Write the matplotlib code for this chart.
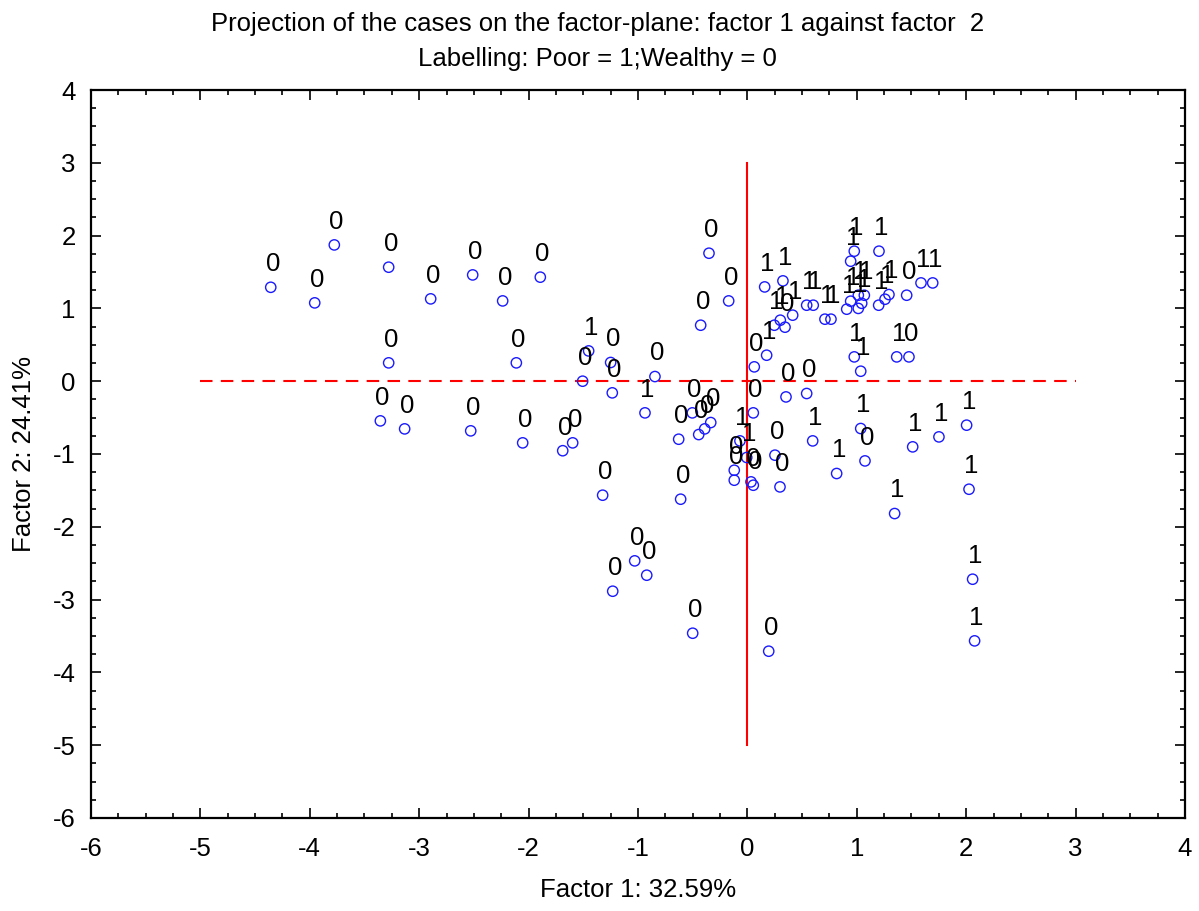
import numpy as np
import matplotlib
matplotlib.use("Agg")
import matplotlib.pyplot as plt
from matplotlib.ticker import MultipleLocator

plt.rcParams["font.family"] = ["Liberation Sans", "DejaVu Sans"]
plt.rcParams["axes.unicode_minus"] = False

# factor scores of the cases (factor 1, factor 2) and group code
factor1 = [-4.357, -3.955, -3.776, -3.279, -2.895, -2.511, -2.237, -1.893,
           -3.279, -2.112, -1.451, -1.506, -3.355, -3.133, -2.529, -2.054,
           -1.688, -1.597, -0.351, -0.171, -0.427, -1.250, -1.235, -0.845,
           -0.936, -0.628, -0.503, -0.445, -0.390, -0.335, -0.068, -0.006,
           -0.120, -0.120, 0.033, 0.054, 0.252, 0.298, 0.353, 0.542,
           0.597, 0.054, 0.063, 0.176, 0.158, 0.325, 0.246, 0.301,
           0.344, 0.414, 0.542, 0.602, 0.709, 0.764, 0.908, 0.944,
           0.977, 0.944, 1.203, 1.014, 1.069, 1.014, 1.045, 1.200,
           1.258, 1.294, 1.456, 1.587, 1.694, 0.977, 1.036, 1.365,
           1.477, 1.036, 1.075, 0.816, 1.511, 1.751, 2.004, 2.026,
           1.346, 2.059, 2.077, -1.323, -0.610, -1.030, -0.920, -1.231,
           -0.500, 0.195]
factor2 = [1.290, 1.076, 1.872, 1.566, 1.131, 1.460, 1.103, 1.429,
           0.252, 0.252, 0.416, 0.000, -0.545, -0.655, -0.682, -0.847,
           -0.955, -0.847, 1.758, 1.103, 0.769, 0.257, -0.160, 0.064,
           -0.435, -0.797, -0.435, -0.733, -0.655, -0.568, -0.820, -1.048,
           -1.223, -1.360, -1.383, -1.429, -1.016, -1.452, -0.216, -0.169,
           -0.820, -0.435, 0.197, 0.357, 1.295, 1.378, 0.769, 0.838,
           0.742, 0.907, 1.044, 1.044, 0.852, 0.852, 0.989, 1.099,
           1.786, 1.648, 1.786, 1.181, 1.181, 1.000, 1.070, 1.044,
           1.126, 1.190, 1.181, 1.350, 1.350, 0.334, 0.137, 0.334,
           0.334, -0.650, -1.095, -1.268, -0.902, -0.765, -0.604, -1.484,
           -1.818, -2.720, -3.567, -1.566, -1.621, -2.468, -2.665, -2.885,
           -3.462, -3.709]
poor = [0, 0, 0, 0, 0, 0, 0, 0,
        0, 0, 1, 0, 0, 0, 0, 0,
        0, 0, 0, 0, 0, 0, 0, 0,
        1, 0, 0, 0, 0, 0, 1, 1,
        0, 0, 0, 0, 0, 0, 0, 0,
        1, 0, 0, 1, 1, 1, 1, 1,
        0, 1, 1, 1, 1, 1, 1, 1,
        1, 1, 1, 1, 1, 1, 1, 1,
        1, 1, 0, 1, 1, 1, 1, 1,
        0, 1, 0, 1, 1, 1, 1, 1,
        1, 1, 1, 0, 0, 0, 0, 0,
        0, 0]

XLIM = (-6, 4)
YLIM = (-6, 4)
FS = 18.5

fig = plt.figure(figsize=(11.99, 9.11), dpi=100)
ax = fig.add_axes([0.0759, 0.1021, 0.9124, 0.7991])

# reference axes through the origin
ax.plot([-5, 3], [0, 0], color="red", lw=1.5, ls=(0, (6, 4)), zorder=1)
ax.plot([0, 0], [3, -5], color="red", lw=1.5, zorder=1)

ax.scatter(factor1, factor2, s=55, facecolors="none", edgecolors="#1a1aff",
           linewidths=1.0, zorder=2)
for x, y, lab in zip(factor1, factor2, poor):
    ax.annotate(str(lab), (x, y), xytext=(1.5, 8), textcoords="offset points",
                ha="center", va="bottom", fontsize=18.5, color="black", zorder=3)

ax.set_xlim(*XLIM)
ax.set_ylim(*YLIM)
ax.xaxis.set_major_locator(MultipleLocator(1))
ax.yaxis.set_major_locator(MultipleLocator(1))
ax.xaxis.set_minor_locator(MultipleLocator(0.25))
ax.yaxis.set_minor_locator(MultipleLocator(0.25))
ax.tick_params(which="both", direction="in", top=True, right=True, width=1.2)
ax.tick_params(which="major", length=7, labelsize=FS)
ax.tick_params(axis="x", which="major", pad=14)
ax.tick_params(axis="y", which="major", pad=11)
ax.tick_params(which="minor", length=3.5)
for sp in ax.spines.values():
    sp.set_linewidth(1.6)

ax.set_xlabel("Factor 1: 32.59%", fontsize=FS, labelpad=12)
ax.set_ylabel("Factor 2: 24.41%", fontsize=FS, labelpad=12)

fig.text(0.4985, 0.974, "Projection of the cases on the factor-plane: factor 1 against factor  2",
         ha="center", va="center", fontsize=FS)
fig.text(0.4985, 0.935, "Labelling: Poor = 1;Wealthy = 0",
         ha="center", va="center", fontsize=FS)

fig.savefig("out.png", dpi=100)
